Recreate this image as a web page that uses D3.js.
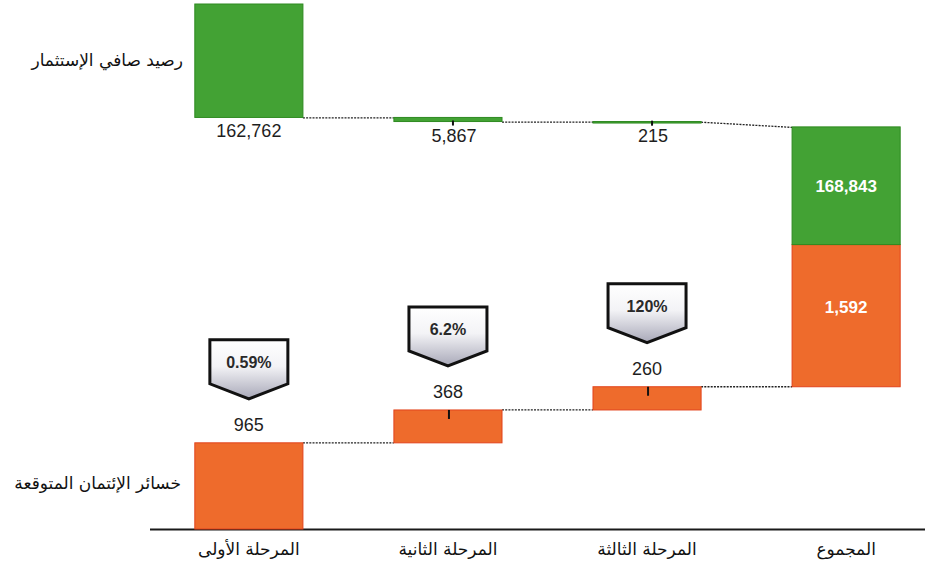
<!DOCTYPE html>
<html lang="ar">
<head>
<meta charset="utf-8">
<script src="https://cdn.jsdelivr.net/npm/d3@7"></script>
<style>
  html, body { margin: 0; padding: 0; background: #ffffff; }
  svg text { font-family: "Liberation Sans", Arial, sans-serif; }
  svg text.ar { font-family: "DejaVu Sans", sans-serif; }
</style>
</head>
<body>
<div id="chart"></div>
<script>
(function () {
  'use strict';

  // --- Data ---
  const stages = ['المرحلة الأولى', 'المرحلة الثانية', 'المرحلة الثالثة'];
  const totalLabel = 'المجموع';
  const netInvestment = [162762, 5867, 215];
  const netInvestmentTotal = 168843;
  const creditLosses = [965, 368, 260];
  const creditLossesTotal = 1592;
  const coverage = ['0.59%', '6.2%', '120%'];
  const seriesNames = ['رصيد صافي الإستثمار', 'خسائر الإئتمان المتوقعة'];

  const W = 936, H = 567;
  const GREEN = '#43a234', GREEN_EDGE = '#2e8a20';
  const ORANGE = '#ee6b2c', ORANGE_EDGE = '#e2431c';
  const fmt = d3.format(',');

  const svg = d3.select('#chart').append('svg')
    .attr('width', W).attr('height', H);

  const defs = svg.append('defs');
  const grad = defs.append('linearGradient').attr('id', 'callout-fill')
    .attr('x1', 0).attr('y1', 0).attr('x2', 0).attr('y2', 1);
  grad.append('stop').attr('offset', '0%').attr('stop-color', '#ffffff');
  grad.append('stop').attr('offset', '45%').attr('stop-color', '#f3f3f6');
  grad.append('stop').attr('offset', '100%').attr('stop-color', '#a8a8b8');

  const cats = stages.concat([totalLabel]);
  const x = d3.scaleBand().domain(cats).range([155, 940]).paddingInner(0.457).paddingOuter(0.2);
  const bw = x.bandwidth();

  // green hangs downward from the top, orange grows up from the baseline
  const yG = d3.scaleLinear().domain([0, 100000]).range([4, 73.7]);
  const yO = d3.scaleLinear().domain([0, 1000]).range([529, 439.7]);

  // cumulative steps
  let cumG = 0, cumO = 0;
  const green = netInvestment.map((v, i) => {
    const d = { cat: stages[i], v, y0: cumG, y1: cumG + v };
    cumG += v; return d;
  });
  const orange = creditLosses.map((v, i) => {
    const d = { cat: stages[i], v, y0: cumO, y1: cumO + v, pct: coverage[i] };
    cumO += v; return d;
  });

  // total bars: orange rises from the cumulative level, green sits on top of it
  const oTotBottom = yO(cumO);
  const oTotTop = oTotBottom - (yO(0) - yO(creditLossesTotal));
  const gTotBottom = oTotTop;
  const gTotTop = gTotBottom - (yG(netInvestmentTotal) - yG(0));

  // --- Baseline ---
  svg.append('line')
    .attr('x1', 150).attr('x2', 925).attr('y1', yO(0) + 0.5).attr('y2', yO(0) + 0.5)
    .attr('stroke', '#1a1a1a').attr('stroke-width', 2);

  // --- Connectors ---
  const conn = svg.append('g').attr('stroke', '#222').attr('stroke-width', 1.3)
    .attr('stroke-dasharray', '2,1.2').attr('fill', 'none');
  green.forEach((d, i) => {
    const last = i === green.length - 1;
    const nx = last ? x(totalLabel) : x(cats[i + 1]);
    const yy = last ? gTotTop : yG(d.y1);
    conn.append('line').attr('x1', x(d.cat) + bw).attr('x2', nx)
      .attr('y1', yG(d.y1) + 0.5).attr('y2', yy + 0.5);
  });
  orange.forEach((d, i) => {
    const nx = i < orange.length - 1 ? x(cats[i + 1]) : x(totalLabel);
    conn.append('line').attr('x1', x(d.cat) + bw).attr('x2', nx)
      .attr('y1', yO(d.y1)).attr('y2', yO(d.y1));
  });

  // --- Green bars ---
  svg.append('g').selectAll('rect').data(green).join('rect')
    .attr('x', d => x(d.cat))
    .attr('y', d => yG(d.y0))
    .attr('width', bw)
    .attr('height', d => Math.max(yG(d.y1) - yG(d.y0), 1.5))
    .attr('fill', GREEN).attr('stroke', GREEN_EDGE).attr('stroke-width', 1);

  // --- Orange bars ---
  svg.append('g').selectAll('rect').data(orange).join('rect')
    .attr('x', d => x(d.cat))
    .attr('y', d => yO(d.y1))
    .attr('width', bw)
    .attr('height', d => yO(d.y0) - yO(d.y1))
    .attr('fill', ORANGE).attr('stroke', ORANGE_EDGE).attr('stroke-width', 1);

  // --- Total bars ---
  svg.append('rect')
    .attr('x', x(totalLabel)).attr('y', oTotTop).attr('width', bw)
    .attr('height', oTotBottom - oTotTop)
    .attr('fill', ORANGE).attr('stroke', ORANGE_EDGE).attr('stroke-width', 1);
  svg.append('rect')
    .attr('x', x(totalLabel)).attr('y', gTotTop).attr('width', bw)
    .attr('height', gTotBottom - gTotTop)
    .attr('fill', GREEN).attr('stroke', GREEN_EDGE).attr('stroke-width', 1);

  // small tick marks on the stage 2 / 3 bars
  const ticks = svg.append('g').attr('stroke', '#111').attr('stroke-width', 2);
  green.slice(1).forEach(d => {
    const cx = x(d.cat) + bw / 2 + 5;
    ticks.append('line').attr('x1', cx).attr('x2', cx)
      .attr('y1', yG(d.y1) - 1).attr('y2', yG(d.y1) + 4);
  });
  orange.slice(1).forEach(d => {
    const cx = x(d.cat) + bw / 2 + 1;
    ticks.append('line').attr('x1', cx).attr('x2', cx)
      .attr('y1', yO(d.y1)).attr('y2', yO(d.y1) + 9);
  });

  // --- Value labels ---
  const lbl = svg.append('g').attr('text-anchor', 'middle')
    .attr('font-size', 18).attr('fill', '#1e1e1e');
  green.forEach((d, i) => {
    const cx = x(d.cat) + bw / 2 + (i === 0 ? 0 : 6);
    lbl.append('text').attr('x', cx).attr('y', yG(d.y1) + 20).text(fmt(d.v));
  });
  orange.forEach(d => {
    lbl.append('text').attr('x', x(d.cat) + bw / 2).attr('y', yO(d.y1) - 12).text(fmt(d.v));
  });
  const tcx = x(totalLabel) + bw / 2;
  svg.append('text').attr('x', tcx).attr('y', (gTotTop + gTotBottom) / 2 + 6)
    .attr('text-anchor', 'middle').attr('font-size', 17).attr('font-weight', 'bold')
    .attr('fill', '#ffffff').text(fmt(netInvestmentTotal));
  svg.append('text').attr('x', tcx).attr('y', (oTotTop + oTotBottom) / 2 - 3)
    .attr('text-anchor', 'middle').attr('font-size', 17).attr('font-weight', 'bold')
    .attr('fill', '#ffffff').text(fmt(creditLossesTotal));

  // --- Coverage callouts (pentagon arrows) ---
  const cw = 78, chBody = 44, chTip = 15;
  orange.forEach(d => {
    const cx = x(d.cat) + bw / 2;
    const bottom = yO(d.y1) - 44;
    const top = bottom - chBody - chTip;
    const g = svg.append('g');
    const pts = [
      [cx - cw / 2, top], [cx + cw / 2, top], [cx + cw / 2, top + chBody],
      [cx, bottom], [cx - cw / 2, top + chBody]
    ];
    g.append('path').attr('d', d3.line()(pts) + 'Z')
      .attr('fill', 'url(#callout-fill)').attr('stroke', '#111')
      .attr('stroke-width', 3).attr('stroke-linejoin', 'miter');
    g.append('text').attr('x', cx).attr('y', top + 28)
      .attr('text-anchor', 'middle').attr('font-size', 16).attr('font-weight', 'bold')
      .attr('fill', '#2a2a2a').text(d.pct);
  });

  // --- Category labels ---
  svg.append('g').selectAll('text').data(cats).join('text')
    .attr('class', 'ar')
    .attr('x', d => x(d) + bw / 2).attr('y', 555)
    .attr('text-anchor', 'middle').attr('direction', 'rtl')
    .attr('font-size', 17).attr('fill', '#111')
    .text(d => d);

  // --- Series names on the left ---
  svg.append('text').attr('class', 'ar').attr('x', 183).attr('y', 66)
    .attr('text-anchor', 'end').attr('font-size', 17).attr('fill', '#111')
    .text(seriesNames[0]);
  svg.append('text').attr('class', 'ar').attr('x', 181).attr('y', 489)
    .attr('text-anchor', 'end').attr('font-size', 17).attr('fill', '#111')
    .text(seriesNames[1]);
})();
</script>
</body>
</html>
